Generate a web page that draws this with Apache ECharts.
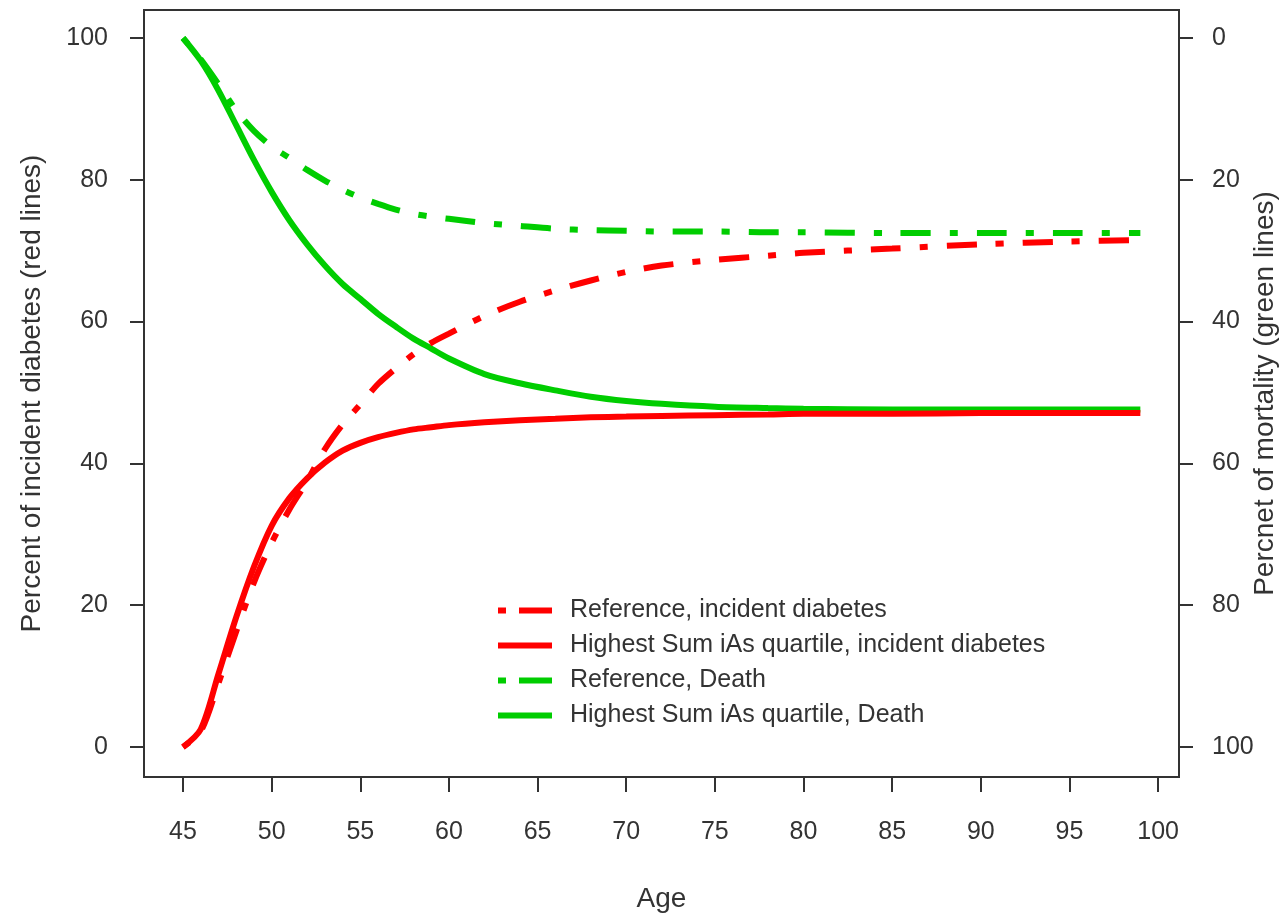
<!DOCTYPE html>
<html>
<head>
<meta charset="utf-8">
<script src="https://cdn.jsdelivr.net/npm/echarts@6/dist/echarts.min.js"></script>
<style>
  html, body { margin: 0; padding: 0; background: #fff; }
  #chart { width: 1281px; height: 914px; }
</style>
</head>
<body>
<div id="chart"></div>
<script>
// Ages at which the cumulative curves are sampled
const ages = [45, 46, 47, 48, 49, 50, 51, 52, 53, 54, 55, 56, 57, 58, 59, 60,
              62, 64, 66, 68, 70, 72, 75, 78, 80, 85, 90, 95, 99];

// Percent of incident diabetes (left axis)
const refDiabetes = [0, 2.2, 9.0, 16.3, 23.2, 28.8, 33.5, 37.5, 42.0, 45.5, 48.3, 51.2, 53.4, 55.4, 57.0, 58.3,
                     60.8, 62.8, 64.4, 65.8, 67.0, 67.9, 68.7, 69.3, 69.7, 70.3, 70.9, 71.3, 71.5];
const highDiabetes = [0, 2.5, 10.3, 18.3, 25.4, 31.2, 35.1, 37.9, 40.1, 41.8, 42.9, 43.7, 44.3, 44.8, 45.1, 45.4,
                      45.8, 46.1, 46.3, 46.5, 46.6, 46.7, 46.8, 46.9, 47.0, 47.0, 47.1, 47.1, 47.1];

// Percent of mortality (right axis, reversed)
const refDeath = [0, 3.0, 6.5, 10.2, 13.1, 15.3, 16.9, 18.6, 20.1, 21.4, 22.5, 23.4, 24.2, 24.8, 25.2, 25.5,
                  26.1, 26.5, 26.9, 27.1, 27.2, 27.3, 27.3, 27.4, 27.4, 27.5, 27.5, 27.5, 27.5];
const highDeath = [0, 3.2, 7.4, 12.3, 17.2, 21.7, 25.7, 29.1, 32.1, 34.7, 36.8, 38.9, 40.7, 42.4, 43.8, 45.2,
                   47.4, 48.7, 49.7, 50.6, 51.2, 51.6, 52.0, 52.2, 52.3, 52.4, 52.4, 52.4, 52.4];

// Tick labels
const xTicks = [45, 50, 55, 60, 65, 70, 75, 80, 85, 90, 95, 100];
const yTicks = [0, 20, 40, 60, 80, 100];

const seriesNames = [
  'Reference, incident diabetes',
  'Highest Sum iAs quartile, incident diabetes',
  'Reference, Death',
  'Highest Sum iAs quartile, Death'
];

const RED = '#ff0000';
const GREEN = '#00cd00';
const INK = '#333333';
const FONT = '"Liberation Sans", Arial, Helvetica, sans-serif';
const DOTDASH = [8, 19, 30, 19];
const LEGEND_DOTDASH = [8, 13, 33, 13];

const pairs = (vals) => ages.map((a, i) => [a, vals[i]]);

const tickStyle = { show: true, inside: false, length: 14, lineStyle: { color: INK, width: 2 } };
const labelStyle = { color: INK, fontSize: 25, fontFamily: FONT };
const nameStyle = { color: INK, fontSize: 28, fontFamily: FONT };

function curve(name, vals, color, dashed, axisIndex, z) {
  return {
    name: name,
    type: 'line',
    yAxisIndex: axisIndex,
    data: pairs(vals),
    symbol: 'none',
    showSymbol: false,
    smooth: 0.3,
    z: z,
    lineStyle: { color: color, width: 6, type: dashed ? DOTDASH : 'solid', cap: 'butt' },
    itemStyle: { color: color },
    emphasis: { disabled: true }
  };
}

function legendItem(name, color, dashed) {
  return {
    name: name,
    itemStyle: { opacity: 0 },
    lineStyle: { color: color, width: 6, type: dashed ? LEGEND_DOTDASH : 'solid', cap: 'butt', opacity: 1 }
  };
}

const chart = echarts.init(document.getElementById('chart'), null, { renderer: 'canvas' });

chart.setOption({
  animation: false,
  backgroundColor: '#ffffff',
  textStyle: { fontFamily: FONT },
  grid: {
    left: 144, top: 10, right: 102, bottom: 137,
    outerBoundsMode: 'none',
    containLabel: false,
    show: true, borderColor: INK, borderWidth: 2, backgroundColor: 'transparent'
  },
  legend: {
    orient: 'vertical',
    left: 495,
    top: 598,
    padding: 0,
    itemWidth: 54,
    itemHeight: 24,
    itemGap: 10,
    data: [
      legendItem(seriesNames[0], RED, true),
      legendItem(seriesNames[1], RED, false),
      legendItem(seriesNames[2], GREEN, true),
      legendItem(seriesNames[3], GREEN, false)
    ],
    textStyle: { color: INK, fontSize: 25, fontFamily: FONT, padding: [0, 0, 0, 13] },
    selectedMode: false
  },
  xAxis: {
    type: 'value',
    min: 42.8,
    max: 101.18,
    name: 'Age',
    nameLocation: 'middle',
    nameGap: 108,
    nameTextStyle: nameStyle,
    axisLine: { show: false, onZero: false },
    splitLine: { show: false },
    axisTick: Object.assign({}, tickStyle, { length: 15, customValues: xTicks }),
    axisLabel: Object.assign({}, labelStyle, { margin: 43, customValues: xTicks })
  },
  yAxis: [
    {
      type: 'value',
      position: 'left',
      min: -4.23,
      max: 103.95,
      name: 'Percent of incident diabetes (red lines)',
      nameLocation: 'middle',
      nameRotate: 90,
      nameGap: 98,
      nameTextStyle: nameStyle,
      axisLine: { show: false, onZero: false },
      splitLine: { show: false },
      axisTick: Object.assign({}, tickStyle, { customValues: yTicks }),
      axisLabel: Object.assign({}, labelStyle, { margin: 36, customValues: yTicks })
    },
    {
      type: 'value',
      position: 'right',
      inverse: true,
      min: -3.95,
      max: 104.23,
      name: 'Percnet of mortality (green lines)',
      nameLocation: 'middle',
      nameRotate: 90,
      nameGap: 72,
      nameMoveOverlap: false,
      nameTextStyle: nameStyle,
      axisLine: { show: false, onZero: false },
      splitLine: { show: false },
      axisTick: Object.assign({}, tickStyle, { customValues: yTicks }),
      axisLabel: Object.assign({}, labelStyle, { margin: 33, customValues: yTicks })
    }
  ],
  series: [
    curve(seriesNames[0], refDiabetes, RED, true, 0, 4),
    curve(seriesNames[1], highDiabetes, RED, false, 0, 3),
    curve(seriesNames[2], refDeath, GREEN, true, 1, 2),
    curve(seriesNames[3], highDeath, GREEN, false, 1, 2)
  ]
});
</script>
</body>
</html>
